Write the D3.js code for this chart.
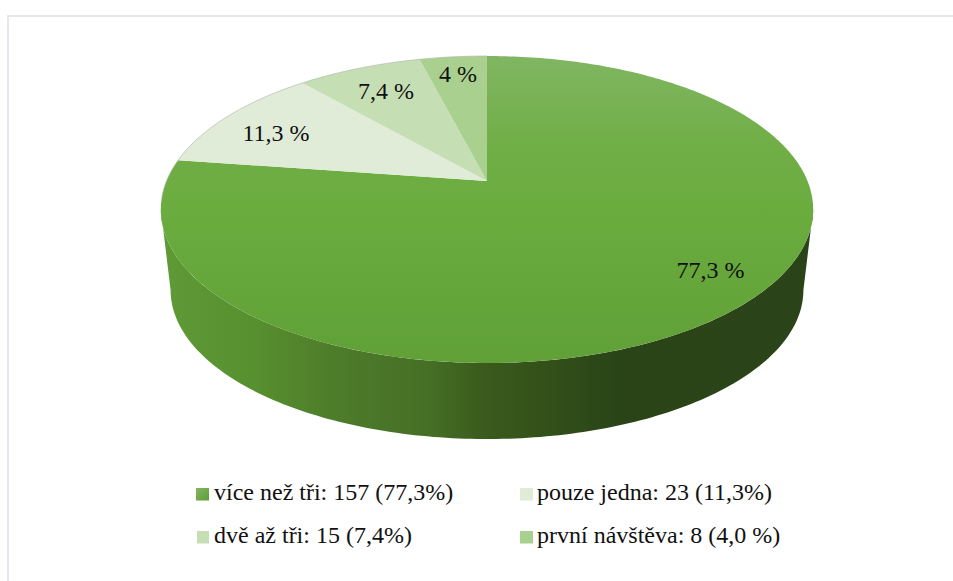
<!DOCTYPE html>
<html><head><meta charset="utf-8">
<script src="https://cdn.jsdelivr.net/npm/d3@7"></script>
<style>html,body{margin:0;padding:0;background:#fff}svg{display:block}text{font-family:"Liberation Serif",serif;fill:#111}</style>
</head><body><div id="chart"></div>
<script>
const categories = ["více než tři","pouze jedna","dvě až tři","první návštěva"];
const shares = [77.3,11.3,7.4,4.0];
const sliceLabels = ["77,3 %","11,3 %","7,4 %","4 %"];
const legendLabels = ["více než tři: 157 (77,3%)","pouze jedna: 23 (11,3%)","dvě až tři: 15 (7,4%)","první návštěva: 8 (4,0 %)"];
const colours = ["url(#top)","#e0ecd8","#c6deb4","#a9d08e"];

const W=953,H=581;
const svg=d3.select("#chart").append("svg").attr("width",W).attr("height",H);
const defs=svg.append("defs");
function grad(id,attrs,stops){
  const g=defs.append("linearGradient").attr("id",id);
  Object.entries(attrs).forEach(([k,v])=>g.attr(k,v));
  stops.forEach(([o,c])=>g.append("stop").attr("offset",o).attr("stop-color",c));
}
grad("top",{x1:0,y1:0,x2:0,y2:1},[[0,"#80b662"],[.3,"#70ae46"],[.5,"#6bac3f"],[1,"#60a037"]]);
grad("side",{x1:0,y1:0,x2:1,y2:0},[[0,"#5f9a37"],[.14,"#57912f"],[.26,"#4e7d2a"],[.41,"#466f26"],[.49,"#3a5c1c"],[.7,"#2a4417"],[1,"#2b4318"]]);
grad("leg",{x1:0,y1:0,x2:1,y2:1},[[0,"#82b764"],[1,"#5f9c35"]]);

// perspective projection of the pie's circle onto the page
const cx=487,apexY=181,k=0.1857,A=148.2,B=320.5;
const xs=d3.scaleLinear().domain([-1,1]).range([-B,B]);
const ys=d3.scaleLinear().domain([-1,1]).range([-A,A]);
function project(theta,scale=1,dy=0){
  const x=Math.sin(theta),u=-Math.cos(theta),d=1-k*u;
  return [cx+scale*xs(x)/d, apexY+dy+scale*ys(u)/d];
}
const pie=d3.pie().sort(null).value(d=>d);
const arcs=pie(shares);
const line=d3.line();
const sweep=(a,b,s,dy)=>{const n=Math.max(2,Math.ceil(Math.abs(b-a)*60));return d3.range(n+1).map(i=>project(a+(b-a)*i/n,s,dy));};

// side wall
const tangent=Math.acos(-k);           // where the top ellipse is widest
const sideS=0.97,sideDy=81.5;
const wall=[...sweep(tangent,2*Math.PI-tangent,1,0),...sweep(2*Math.PI-tangent,tangent,sideS,sideDy)];
svg.append("path").attr("d",line(wall)+"Z").attr("fill","url(#side)");

// top slices
svg.append("g").selectAll("path").data(arcs).join("path")
  .attr("d",a=>line([[cx,apexY],...sweep(a.startAngle,a.endAngle,1,0)])+"Z")
  .attr("fill",(a,i)=>colours[i]);
// thin grey rim along the far edge of the pale slices
svg.append("path").attr("d",line(sweep(arcs[1].startAngle-.25,arcs[3].endAngle,1,0)))
  .attr("fill","none").attr("stroke","#b4b9ae").attr("stroke-width",.7);

// frame
svg.append("path").attr("d",line([[8,H],[8,16],[W,16]])).attr("fill","none").attr("stroke","#e5e8ee").attr("stroke-width",2);

// slice labels
const labelPos=[[710.5,278],[276,141],[386,99],[458,82]];
svg.append("g").selectAll("text").data(sliceLabels).join("text")
  .attr("x",(d,i)=>labelPos[i][0]).attr("y",(d,i)=>labelPos[i][1])
  .attr("text-anchor","middle").attr("font-size",24).text(d=>d);

// legend
const legPos=[[196,488,13,214,500],[520,488,13,537,500],[197,531,12,214,543],[520,531,13,537,543]];
const leg=svg.append("g").selectAll("g").data(legendLabels).join("g");
leg.append("rect").attr("x",(d,i)=>legPos[i][0]).attr("y",(d,i)=>legPos[i][1])
  .attr("width",(d,i)=>legPos[i][2]).attr("height",12.5)
  .attr("fill",(d,i)=>i==0?"url(#leg)":colours[i]);
leg.append("text").attr("x",(d,i)=>legPos[i][3]).attr("y",(d,i)=>legPos[i][4])
  .attr("font-size",24).text(d=>d);
</script></body></html>
